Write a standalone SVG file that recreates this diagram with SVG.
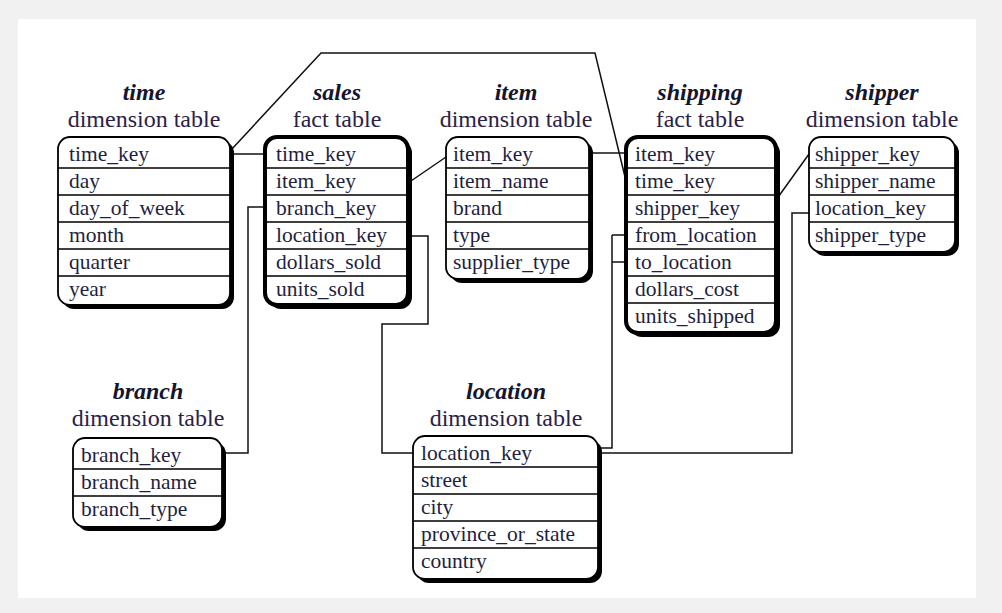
<svg xmlns="http://www.w3.org/2000/svg" width="1002" height="613" viewBox="0 0 1002 613">
<style>
.dim{fill:#fff;stroke:#000;stroke-width:1.8}
.fact{fill:#fff;stroke:#000;stroke-width:4}
.shadow{fill:#000}
.sep{stroke:#000;stroke-width:1.5}
.row{font-family:"Liberation Serif","Times New Roman",serif;font-size:21.5px;fill:#1f1f3f}
.title{font-family:"Liberation Serif","Times New Roman",serif;font-size:24px;font-weight:bold;font-style:italic;fill:#151530;text-anchor:middle}
.sub{font-family:"Liberation Serif","Times New Roman",serif;font-size:24px;fill:#2a2248;text-anchor:middle}
.conn{fill:none;stroke:#111;stroke-width:1.5}
</style>
<rect x="0" y="0" width="1002" height="613" fill="#f1f1f1"/>
<rect x="18" y="19" width="958" height="579" fill="#fff"/>

<g id="connectors">
<path class="conn" d="M230,154 H265"/>
<path class="conn" d="M231,150 L321,53 H595 L626,181"/>
<path class="conn" d="M408,183 L446,157"/>
<path class="conn" d="M589,153 H626"/>
<path class="conn" d="M265,207 H248 V453 H222"/>
<path class="conn" d="M408,236 H428 V324 H382 V453 H413"/>
<path class="conn" d="M626,235 H612 M626,262 H612 M612,235 V448 H598"/>
<path class="conn" d="M776,200 L809,154"/>
<path class="conn" d="M809,213 H792 V453 H598"/>
</g>

<g id="time">
<text class="title" x="144" y="100">time</text>
<text class="sub" x="144" y="127">dimension table</text>
<rect class="shadow" x="62" y="141" width="172" height="168" rx="12"/>
<rect class="dim" x="58" y="137" width="172" height="168" rx="12"/>
<path class="sep" d="M58,168 H230 M58,195 H230 M58,222 H230 M58,249 H230 M58,276 H230"/>
<text class="row" x="69" y="161">time_key</text>
<text class="row" x="69" y="188">day</text>
<text class="row" x="69" y="215">day_of_week</text>
<text class="row" x="69" y="242">month</text>
<text class="row" x="69" y="269">quarter</text>
<text class="row" x="69" y="296">year</text>
</g>

<g id="sales">
<text class="title" x="337" y="100">sales</text>
<text class="sub" x="337" y="127">fact table</text>
<rect class="shadow" x="269" y="141" width="143" height="168" rx="12"/>
<rect class="fact" x="265" y="137" width="143" height="168" rx="12"/>
<path class="sep" d="M265,168 H408 M265,195 H408 M265,222 H408 M265,249 H408 M265,276 H408"/>
<text class="row" x="276" y="161">time_key</text>
<text class="row" x="276" y="188">item_key</text>
<text class="row" x="276" y="215">branch_key</text>
<text class="row" x="276" y="242">location_key</text>
<text class="row" x="276" y="269">dollars_sold</text>
<text class="row" x="276" y="296">units_sold</text>
</g>

<g id="item">
<text class="title" x="516" y="100">item</text>
<text class="sub" x="516" y="127">dimension table</text>
<rect class="shadow" x="450" y="141" width="143" height="142" rx="12"/>
<rect class="dim" x="446" y="137" width="143" height="142" rx="12"/>
<path class="sep" d="M446,168 H589 M446,195 H589 M446,222 H589 M446,249 H589"/>
<text class="row" x="453" y="161">item_key</text>
<text class="row" x="453" y="188">item_name</text>
<text class="row" x="453" y="215">brand</text>
<text class="row" x="453" y="242">type</text>
<text class="row" x="453" y="269">supplier_type</text>
</g>

<g id="shipping">
<text class="title" x="700" y="100">shipping</text>
<text class="sub" x="700" y="127">fact table</text>
<rect class="shadow" x="630" y="141" width="150" height="196" rx="12"/>
<rect class="fact" x="626" y="137" width="150" height="196" rx="12"/>
<path class="sep" d="M626,168 H776 M626,195 H776 M626,222 H776 M626,249 H776 M626,276 H776 M626,303 H776"/>
<text class="row" x="635" y="161">item_key</text>
<text class="row" x="635" y="188">time_key</text>
<text class="row" x="635" y="215">shipper_key</text>
<text class="row" x="635" y="242">from_location</text>
<text class="row" x="635" y="269">to_location</text>
<text class="row" x="635" y="296">dollars_cost</text>
<text class="row" x="635" y="323">units_shipped</text>
</g>

<g id="shipper">
<text class="title" x="882" y="100">shipper</text>
<text class="sub" x="882" y="127">dimension table</text>
<rect class="shadow" x="813" y="141" width="146" height="115" rx="12"/>
<rect class="dim" x="809" y="137" width="146" height="115" rx="12"/>
<path class="sep" d="M809,168 H955 M809,195 H955 M809,222 H955"/>
<text class="row" x="815" y="161">shipper_key</text>
<text class="row" x="815" y="188">shipper_name</text>
<text class="row" x="815" y="215">location_key</text>
<text class="row" x="815" y="242">shipper_type</text>
</g>

<g id="branch">
<text class="title" x="148" y="399">branch</text>
<text class="sub" x="148" y="426">dimension table</text>
<rect class="shadow" x="77" y="442" width="149" height="89" rx="12"/>
<rect class="dim" x="73" y="438" width="149" height="89" rx="12"/>
<path class="sep" d="M73,469 H222 M73,496 H222"/>
<text class="row" x="81" y="462">branch_key</text>
<text class="row" x="81" y="489">branch_name</text>
<text class="row" x="81" y="516">branch_type</text>
</g>

<g id="location">
<text class="title" x="506" y="399">location</text>
<text class="sub" x="506" y="426">dimension table</text>
<rect class="shadow" x="417" y="440" width="185" height="143" rx="12"/>
<rect class="dim" x="413" y="436" width="185" height="143" rx="12"/>
<path class="sep" d="M413,467 H598 M413,494 H598 M413,521 H598 M413,548 H598"/>
<text class="row" x="421" y="460">location_key</text>
<text class="row" x="421" y="487">street</text>
<text class="row" x="421" y="514">city</text>
<text class="row" x="421" y="541">province_or_state</text>
<text class="row" x="421" y="568">country</text>
</g>
</svg>
